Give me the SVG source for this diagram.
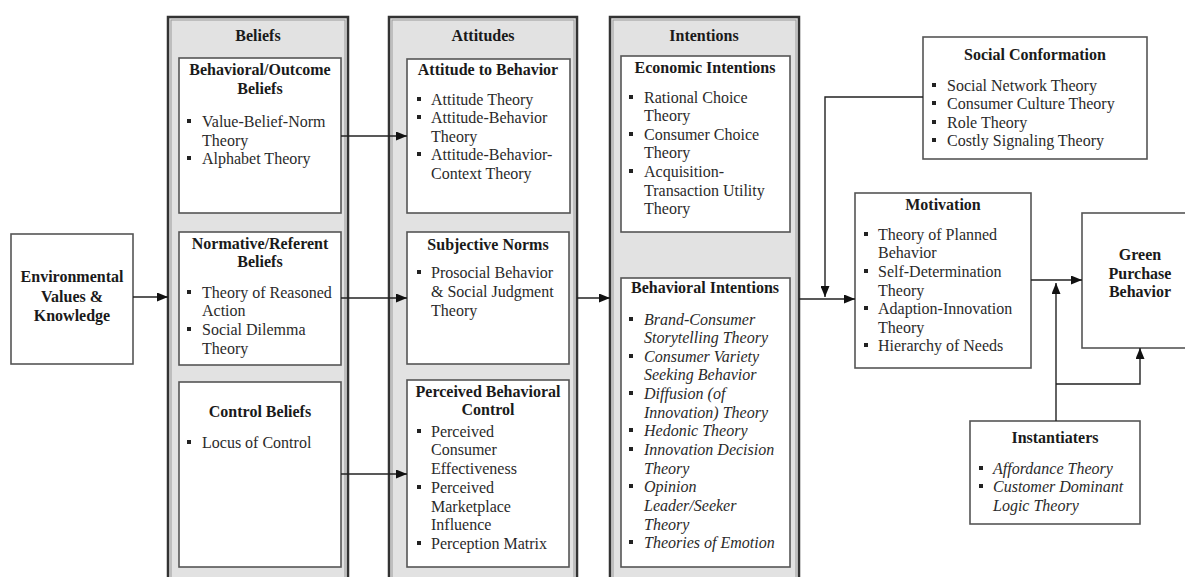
<svg xmlns="http://www.w3.org/2000/svg" width="1185" height="577" viewBox="0 0 1185 577">
<defs>
<marker id="ah" markerWidth="11" markerHeight="9" refX="11" refY="4.5" orient="auto" markerUnits="userSpaceOnUse">
<path d="M0,0 L11,4.5 L0,9 z" fill="#111"/>
</marker>
<style>
.col{fill:#e2e2e2;stroke:#333;stroke-width:2.5}
.colin{fill:none;stroke:#9a9a9a;stroke-width:1}
.box{fill:#fff;stroke:#555;stroke-width:1.6}
.t{font-family:"Liberation Serif","Times New Roman",serif;font-size:16px;fill:#2a2a2a}
.h{font-weight:bold;text-anchor:middle;fill:#1a1a1a}
.i{font-style:italic}
.b{fill:#222}
.c{fill:none;stroke:#222;stroke-width:1.4}
</style>
</defs>
<rect width="1185" height="577" fill="#fff"/>

<g id="env">
<rect class="box" x="11" y="234" width="122" height="130"/>
<text class="t h" x="72" y="282">Environmental</text>
<text class="t h" x="72" y="302">Values &amp;</text>
<text class="t h" x="72" y="321">Knowledge</text>
</g>

<g id="beliefs">
<rect class="col" x="168" y="17" width="180" height="580"/>
<rect class="colin" x="171" y="20" width="174" height="574"/>
<text class="t h" x="258" y="41">Beliefs</text>
</g>
<g id="behavioral-beliefs">
<rect class="box" x="179" y="58" width="162" height="155"/>
<text class="t h" x="260" y="75">Behavioral/Outcome</text>
<text class="t h" x="260" y="94">Beliefs</text>
<rect class="b" x="187" y="119" width="4" height="4"/><text class="t" x="202" y="127">Value-Belief-Norm</text>
<text class="t" x="202" y="146">Theory</text>
<rect class="b" x="187" y="156" width="4" height="4"/><text class="t" x="202" y="164">Alphabet Theory</text>
</g>
<g id="normative-beliefs">
<rect class="box" x="179" y="232" width="162" height="133"/>
<text class="t h" x="260" y="249">Normative/Referent</text>
<text class="t h" x="260" y="267">Beliefs</text>
<rect class="b" x="187" y="290" width="4" height="4"/><text class="t" x="202" y="298">Theory of Reasoned</text>
<text class="t" x="202" y="316">Action</text>
<rect class="b" x="187" y="327" width="4" height="4"/><text class="t" x="202" y="335">Social Dilemma</text>
<text class="t" x="202" y="354">Theory</text>
</g>
<g id="control-beliefs">
<rect class="box" x="179" y="382" width="162" height="185"/>
<text class="t h" x="260" y="417">Control Beliefs</text>
<rect class="b" x="187" y="440" width="4" height="4"/><text class="t" x="202" y="448">Locus of Control</text>
</g>

<g id="attitudes">
<rect class="col" x="389" y="17" width="188" height="580"/>
<rect class="colin" x="392" y="20" width="182" height="574"/>
<text class="t h" x="483" y="41">Attitudes</text>
</g>
<g id="attitude-to-behavior">
<rect class="box" x="407" y="59" width="163" height="154"/>
<text class="t h" x="488" y="75">Attitude to Behavior</text>
<rect class="b" x="417" y="97" width="4" height="4"/><text class="t" x="431" y="105">Attitude Theory</text>
<rect class="b" x="417" y="115" width="4" height="4"/><text class="t" x="431" y="123">Attitude-Behavior</text>
<text class="t" x="431" y="142">Theory</text>
<rect class="b" x="417" y="152" width="4" height="4"/><text class="t" x="431" y="160">Attitude-Behavior-</text>
<text class="t" x="431" y="179">Context Theory</text>
</g>
<g id="subjective-norms">
<rect class="box" x="407" y="232" width="162" height="132"/>
<text class="t h" x="488" y="250">Subjective Norms</text>
<rect class="b" x="417" y="270" width="4" height="4"/><text class="t" x="431" y="278">Prosocial Behavior</text>
<text class="t" x="431" y="297">&amp; Social Judgment</text>
<text class="t" x="431" y="316">Theory</text>
</g>
<g id="pbc">
<rect class="box" x="407" y="380" width="162" height="187"/>
<text class="t h" x="488" y="397">Perceived Behavioral</text>
<text class="t h" x="488" y="415">Control</text>
<rect class="b" x="417" y="429" width="4" height="4"/><text class="t" x="431" y="437">Perceived</text>
<text class="t" x="431" y="455">Consumer</text>
<text class="t" x="431" y="474">Effectiveness</text>
<rect class="b" x="417" y="485" width="4" height="4"/><text class="t" x="431" y="493">Perceived</text>
<text class="t" x="431" y="512">Marketplace</text>
<text class="t" x="431" y="530">Influence</text>
<rect class="b" x="417" y="541" width="4" height="4"/><text class="t" x="431" y="549">Perception Matrix</text>
</g>

<g id="intentions">
<rect class="col" x="610" y="17" width="189" height="580"/>
<rect class="colin" x="613" y="20" width="183" height="574"/>
<text class="t h" x="704" y="41">Intentions</text>
</g>
<g id="economic-intentions">
<rect class="box" x="621" y="56" width="169" height="176"/>
<text class="t h" x="705" y="73">Economic Intentions</text>
<rect class="b" x="629" y="95" width="4" height="4"/><text class="t" x="644" y="103">Rational Choice</text>
<text class="t" x="644" y="121">Theory</text>
<rect class="b" x="629" y="132" width="4" height="4"/><text class="t" x="644" y="140">Consumer Choice</text>
<text class="t" x="644" y="158">Theory</text>
<rect class="b" x="629" y="169" width="4" height="4"/><text class="t" x="644" y="177">Acquisition-</text>
<text class="t" x="644" y="196">Transaction Utility</text>
<text class="t" x="644" y="214">Theory</text>
</g>
<g id="behavioral-intentions">
<rect class="box" x="621" y="278" width="169" height="289"/>
<text class="t h" x="705" y="293">Behavioral Intentions</text>
<rect class="b" x="629" y="317" width="4" height="4"/><text class="t i" x="644" y="325">Brand-Consumer</text>
<text class="t i" x="644" y="343">Storytelling Theory</text>
<rect class="b" x="629" y="354" width="4" height="4"/><text class="t i" x="644" y="362">Consumer Variety</text>
<text class="t i" x="644" y="380">Seeking Behavior</text>
<rect class="b" x="629" y="391" width="4" height="4"/><text class="t i" x="644" y="399">Diffusion (of</text>
<text class="t i" x="644" y="418">Innovation) Theory</text>
<rect class="b" x="629" y="428" width="4" height="4"/><text class="t i" x="644" y="436">Hedonic Theory</text>
<rect class="b" x="629" y="447" width="4" height="4"/><text class="t i" x="644" y="455">Innovation Decision</text>
<text class="t i" x="644" y="474">Theory</text>
<rect class="b" x="629" y="484" width="4" height="4"/><text class="t i" x="644" y="492">Opinion</text>
<text class="t i" x="644" y="511">Leader/Seeker</text>
<text class="t i" x="644" y="530">Theory</text>
<rect class="b" x="629" y="540" width="4" height="4"/><text class="t i" x="644" y="548">Theories of Emotion</text>
</g>

<g id="social-conformation">
<rect class="box" x="923" y="37" width="224" height="122"/>
<text class="t h" x="1035" y="60">Social Conformation</text>
<rect class="b" x="932" y="83" width="4" height="4"/><text class="t" x="947" y="91">Social Network Theory</text>
<rect class="b" x="932" y="101" width="4" height="4"/><text class="t" x="947" y="109">Consumer Culture Theory</text>
<rect class="b" x="932" y="120" width="4" height="4"/><text class="t" x="947" y="128">Role Theory</text>
<rect class="b" x="932" y="138" width="4" height="4"/><text class="t" x="947" y="146">Costly Signaling Theory</text>
</g>

<g id="motivation">
<rect class="box" x="855" y="193" width="176" height="175"/>
<text class="t h" x="943" y="210">Motivation</text>
<rect class="b" x="864" y="232" width="4" height="4"/><text class="t" x="878" y="240">Theory of Planned</text>
<text class="t" x="878" y="258">Behavior</text>
<rect class="b" x="864" y="269" width="4" height="4"/><text class="t" x="878" y="277">Self-Determination</text>
<text class="t" x="878" y="296">Theory</text>
<rect class="b" x="864" y="306" width="4" height="4"/><text class="t" x="878" y="314">Adaption-Innovation</text>
<text class="t" x="878" y="333">Theory</text>
<rect class="b" x="864" y="343" width="4" height="4"/><text class="t" x="878" y="351">Hierarchy of Needs</text>
</g>

<g id="green-purchase-behavior">
<rect class="box" x="1082" y="213" width="118" height="135"/>
<text class="t h" x="1140" y="260">Green</text>
<text class="t h" x="1140" y="279">Purchase</text>
<text class="t h" x="1140" y="297">Behavior</text>
</g>

<g id="instantiaters">
<rect class="box" x="970" y="421" width="170" height="103"/>
<text class="t h" x="1055" y="443">Instantiaters</text>
<rect class="b" x="979" y="466" width="4" height="4"/><text class="t i" x="993" y="474">Affordance Theory</text>
<rect class="b" x="979" y="484" width="4" height="4"/><text class="t i" x="993" y="492">Customer Dominant</text>
<text class="t i" x="993" y="511">Logic Theory</text>
</g>

<g id="connectors">
<line class="c" x1="133" y1="297" x2="168" y2="297" marker-end="url(#ah)"/>
<line class="c" x1="341" y1="136" x2="407" y2="136" marker-end="url(#ah)"/>
<line class="c" x1="341" y1="298" x2="407" y2="298" marker-end="url(#ah)"/>
<line class="c" x1="341" y1="474" x2="407" y2="474" marker-end="url(#ah)"/>
<line class="c" x1="577" y1="298" x2="610" y2="298" marker-end="url(#ah)"/>
<line class="c" x1="799" y1="299" x2="855" y2="299" marker-end="url(#ah)"/>
<path class="c" d="M923,97 H825 V297" marker-end="url(#ah)"/>
<line class="c" x1="1031" y1="280" x2="1082" y2="280" marker-end="url(#ah)"/>
<path class="c" d="M1056,421 V283" marker-end="url(#ah)"/>
<path class="c" d="M1056,384 H1140 V348" marker-end="url(#ah)"/>
</g>
</svg>
